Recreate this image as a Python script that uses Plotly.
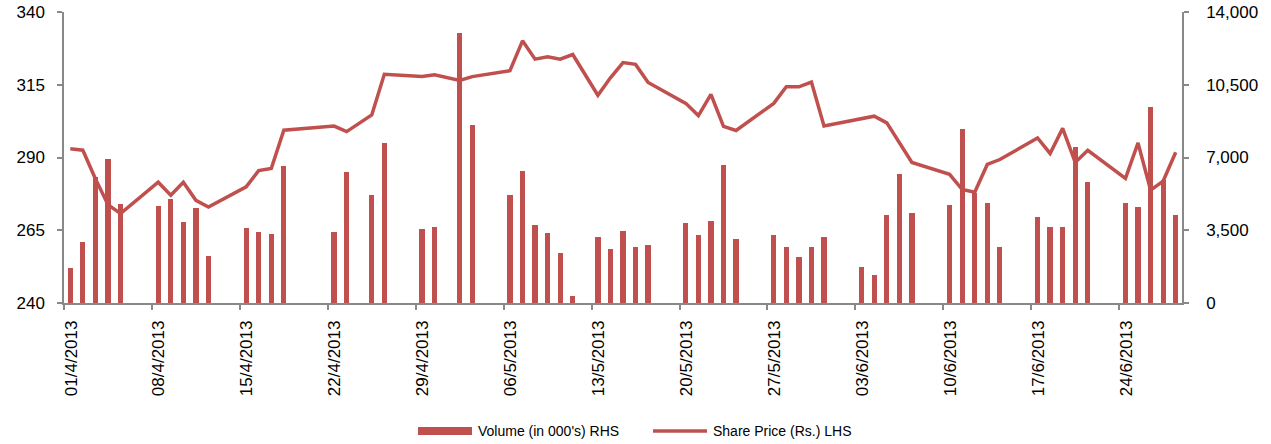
import pandas as pd
import plotly.graph_objects as go

# ---- data ----
dates = [
    "2013-04-01", "2013-04-02", "2013-04-03", "2013-04-04", "2013-04-05",
    "2013-04-08", "2013-04-09", "2013-04-10", "2013-04-11", "2013-04-12",
    "2013-04-15", "2013-04-16", "2013-04-17", "2013-04-18",
    "2013-04-22", "2013-04-23", "2013-04-25", "2013-04-26",
    "2013-04-29", "2013-04-30",
    "2013-05-02", "2013-05-03",
    "2013-05-06", "2013-05-07", "2013-05-08", "2013-05-09", "2013-05-10", "2013-05-11",
    "2013-05-13", "2013-05-14", "2013-05-15", "2013-05-16", "2013-05-17",
    "2013-05-20", "2013-05-21", "2013-05-22", "2013-05-23", "2013-05-24",
    "2013-05-27", "2013-05-28", "2013-05-29", "2013-05-30", "2013-05-31",
    "2013-06-03", "2013-06-04", "2013-06-05", "2013-06-06", "2013-06-07",
    "2013-06-10", "2013-06-11", "2013-06-12", "2013-06-13", "2013-06-14",
    "2013-06-17", "2013-06-18", "2013-06-19", "2013-06-20", "2013-06-21",
    "2013-06-24", "2013-06-25", "2013-06-26", "2013-06-27", "2013-06-28",
]

volume = [
    1686, 2915, 6060, 6930, 4740,
    4657, 5027, 3887, 4561, 2248,
    3597, 3405, 3308, 6568,
    3400, 6279, 5220, 7709,
    3581, 3678,
    12976, 8560,
    5220, 6360, 3774, 3389, 2425, 321,
    3196, 2618, 3485, 2714, 2811,
    3870, 3292, 3967, 6649, 3100,
    3292, 2714, 2232, 2714, 3196,
    1751, 1365, 4256, 6183, 4352,
    4726, 8360, 5280, 4830, 2715,
    4160, 3678, 3678, 7516, 5798,
    4834, 4641, 9427, 5894, 4256,
]

price = [
    293.0, 292.5, 282.7, 273.8, 270.7,
    281.5, 277.0, 281.5, 275.3, 273.0,
    279.9, 285.5, 286.2, 299.4,
    300.8, 298.9, 304.6, 318.6,
    317.8, 318.4,
    316.5, 317.8,
    319.8, 330.1, 323.8, 324.6, 323.8, 325.4,
    311.4, 317.4, 322.6, 322.0, 315.8,
    308.6, 304.4, 311.7, 300.7, 299.3,
    308.6, 314.3, 314.3, 315.9, 300.8,
    303.4, 304.2, 301.9, 295.0, 288.3,
    284.2, 279.0, 278.1, 287.6, 289.3,
    296.7, 291.4, 300.0, 288.3, 292.5,
    282.8, 295.0, 278.8, 281.9, 291.8,
]

tick_labels = ["01/4/2013", "08/4/2013", "15/4/2013", "22/4/2013", "29/4/2013",
               "06/5/2013", "13/5/2013", "20/5/2013", "27/5/2013", "03/6/2013",
               "10/6/2013", "17/6/2013", "24/6/2013"]

bar_name = "Volume (in 000's) RHS"
line_name = "Share Price (Rs.) LHS"

# ---- styling ----
RED = "#C0504D"
AXIS = "#898989"
FONT = "Liberation Sans, Arial, sans-serif"

x = pd.to_datetime(dates)
half_day = pd.Timedelta(hours=12)
tick_pos = pd.to_datetime(tick_labels, format="%d/%m/%Y") - half_day
x_range = [x.min() - half_day, x.max() + half_day]

fig = go.Figure()
fig.add_trace(go.Bar(
    x=x, y=volume, name=bar_name, yaxis="y",
    marker=dict(color=RED, line=dict(width=0)),
    width=0.42 * 86400000,
))
fig.add_trace(go.Scatter(
    x=x, y=price, name=line_name, yaxis="y2", mode="lines",
    line=dict(color=RED, width=3.5),
))

W, H = 1271, 444
ml, mr, mt, mb = 64, 89, 12, 141
pw, ph = W - ml - mr, H - mt - mb

def px2paper_x(px):
    return (px - ml) / pw

def px2paper_y(py):
    return (H - mb - py) / ph

fig.update_layout(
    width=W, height=H,
    margin=dict(l=ml, r=mr, t=mt, b=mb, pad=0),
    paper_bgcolor="white", plot_bgcolor="white",
    showlegend=False,
    font=dict(family=FONT, size=17, color="#000000"),
    bargap=0,
    xaxis=dict(
        type="date", range=x_range, automargin=False,
        tickmode="array", tickvals=tick_pos, ticktext=tick_labels,
        tickangle=-90, ticks="outside", ticklen=5, tickwidth=1.5, tickcolor=AXIS,
        showline=True, linecolor=AXIS, linewidth=1.5,
        showgrid=False, zeroline=False,
        ticklabelshift=7, ticklabelstandoff=4,
        tickfont=dict(size=17, family=FONT, color="#000000"),
    ),
    yaxis=dict(
        side="right", range=[0, 14000], tickmode="linear", tick0=0, dtick=3500,
        automargin=False,
        tickformat=",", ticks="outside", ticklen=5, tickwidth=1.5, tickcolor=AXIS,
        showline=True, linecolor=AXIS, linewidth=1.5,
        showgrid=False, zeroline=False, ticklabelstandoff=14,
        tickfont=dict(size=17, family=FONT, color="#000000"),
    ),
    yaxis2=dict(
        side="left", overlaying="y", anchor="x", automargin=False,
        range=[240, 340], tickmode="linear", tick0=240, dtick=25,
        ticks="outside", ticklen=5, tickwidth=1.5, tickcolor=AXIS,
        showline=True, linecolor=AXIS, linewidth=1.5,
        showgrid=False, zeroline=False, ticklabelstandoff=9,
        tickfont=dict(size=17, family=FONT, color="#000000"),
    ),
)

# custom legend below the chart (Excel style)
fig.add_shape(type="rect", xref="paper", yref="paper",
              x0=px2paper_x(418), x1=px2paper_x(472),
              y0=px2paper_y(427), y1=px2paper_y(435),
              fillcolor=RED, line=dict(width=0))
fig.add_annotation(xref="paper", yref="paper", x=px2paper_x(476), y=px2paper_y(431),
                   text=bar_name, showarrow=False, xanchor="left", yanchor="middle",
                   font=dict(size=14, family=FONT, color="#000000"))
fig.add_shape(type="line", xref="paper", yref="paper",
              x0=px2paper_x(653), x1=px2paper_x(707),
              y0=px2paper_y(431), y1=px2paper_y(431),
              line=dict(color=RED, width=3.5))
fig.add_annotation(xref="paper", yref="paper", x=px2paper_x(711), y=px2paper_y(431),
                   text=line_name, showarrow=False, xanchor="left", yanchor="middle",
                   font=dict(size=14, family=FONT, color="#000000"))

fig.write_html("out.html")
